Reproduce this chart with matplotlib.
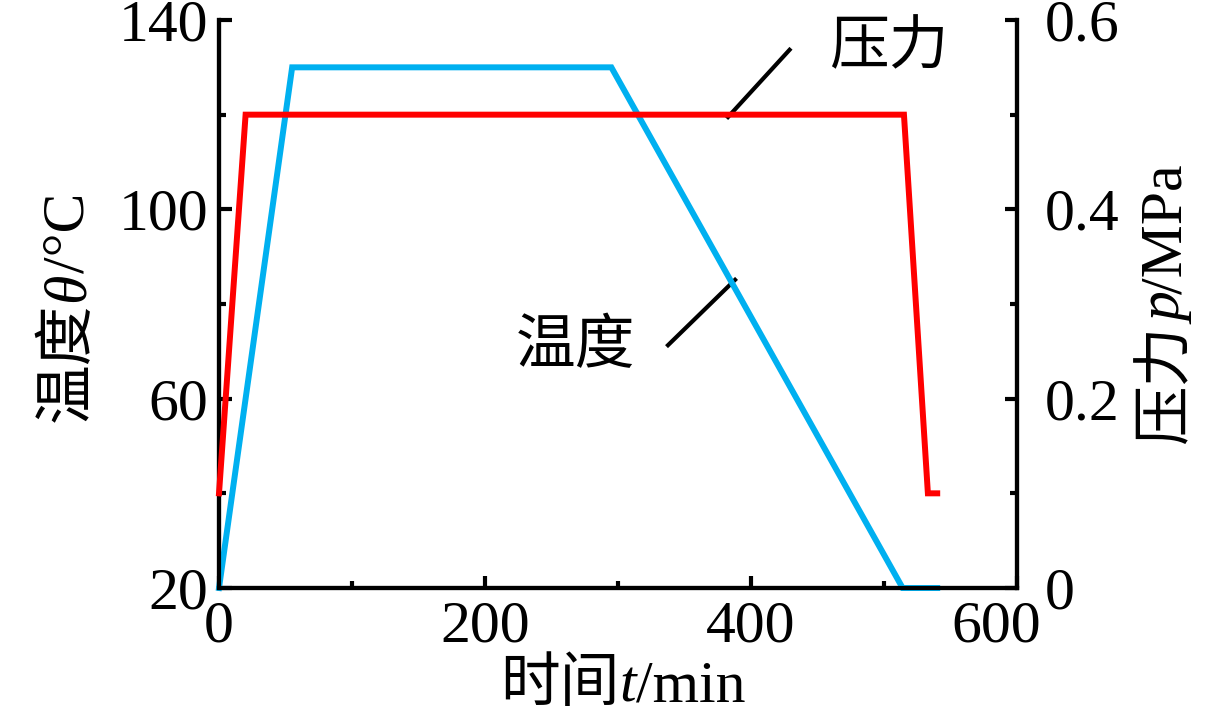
import matplotlib
matplotlib.use("Agg")
import matplotlib.pyplot as plt
from matplotlib.ticker import MultipleLocator
from matplotlib.transforms import ScaledTranslation

plt.rcParams['font.family'] = ['Liberation Serif', 'Noto Sans CJK SC', 'DejaVu Sans']

# Temperature (left axis)
temp_time = [0, 55, 295, 514, 540]
temp_vals = [20, 130, 130, 20, 20]
# Pressure (right axis)
pres_time = [0, 20, 515, 533, 540]
pres_vals = [0.1, 0.5, 0.5, 0.1, 0.1]

xticks = [0, 200, 400, 600]
yticks_left = [20, 60, 100, 140]
yticks_right = [0, 0.2, 0.4, 0.6]
yticklabels_right = ['0', '0.2', '0.4', '0.6']

W, H = 1231, 713
fig = plt.figure(figsize=(W / 100, H / 100), dpi=100)
ax = fig.add_axes([219 / W, 1 - 588 / H, (1017 - 219) / W, (588 - 20) / H])
ax2 = ax.twinx()

blue = '#00B0F0'
red = '#FF0000'
ax.plot(temp_time, temp_vals, color=blue, lw=4.3, solid_joinstyle='miter', zorder=3, clip_on=False)
ax2.plot(pres_time, pres_vals, color=red, lw=4.3, solid_joinstyle='miter', zorder=3, clip_on=False)

ax.set_xlim(0, 600)
ax.set_ylim(20, 140)
ax2.set_ylim(0, 0.6)
ax.set_xticks(xticks)
ax.set_yticks(yticks_left)
ax2.set_yticks(yticks_right)
ax2.set_yticklabels(yticklabels_right)
ax.xaxis.set_minor_locator(MultipleLocator(100))
ax.yaxis.set_minor_locator(MultipleLocator(20))
ax2.yaxis.set_minor_locator(MultipleLocator(0.1))

fs = 43
for a in (ax, ax2):
    for s in a.spines.values():
        s.set_linewidth(3)
    a.tick_params(which='major', direction='in', length=9, width=3, labelsize=fs)
    a.tick_params(which='minor', direction='in', length=5, width=3)
ax.spines['top'].set_visible(False)
ax2.spines['top'].set_visible(False)
ax.tick_params(axis='x', pad=9)
ax.tick_params(axis='y', pad=8)
ax2.tick_params(axis='y', pad=20)

# the last x tick label sits a little to the left, as in the reference
last = ax.xaxis.get_major_ticks()[-1].label1
last.set_transform(last.get_transform() + ScaledTranslation(-0.21, 0, fig.dpi_scale_trans))

# composite labels (CJK + italic serif symbol + upright serif)
renderer = fig.canvas.get_renderer()


def composite(pieces, cx, cy_base, rotation=0):
    """pieces: list of (text, style). cx/cy_base in pixels from top-left.
    For rotation 0: cx = centre x, cy_base = baseline y.
    For rotation 90: cx = baseline x, cy_base = centre y."""
    widths = []
    for txt, style in pieces:
        t = fig.text(0, 0, txt, fontsize=fs, fontstyle=style)
        widths.append(t.get_window_extent(renderer).width)
        t.remove()
    total = sum(widths)
    pos = -total / 2
    for (txt, style), w in zip(pieces, widths):
        if rotation == 0:
            x, y = cx + pos, cy_base
        else:
            x, y = cx, cy_base - pos
        fig.text(x / W, 1 - y / H, txt, fontsize=fs, fontstyle=style,
                 rotation=rotation, rotation_mode='anchor',
                 ha='left', va='baseline')
        pos += w


composite([('时间', 'normal'), ('t', 'italic'), ('/min', 'normal')], 623, 701)
composite([('温度', 'normal'), ('θ', 'italic'), ('/°C', 'normal')], 84, 307, rotation=90)
composite([('压力', 'normal'), ('p', 'italic'), ('/MPa', 'normal')], 1182, 304, rotation=90)

# annotations
ax.text(459, 133.6, '压力', fontsize=fs, ha='left', va='center')
ax.plot([429, 382.7], [133.7, 119.5], color='black', lw=3)
ax.text(313, 70.7, '温度', fontsize=fs, ha='right', va='center')
ax.plot([337.6, 388], [71.3, 85.1], color='black', lw=3)

fig.savefig('out.png', dpi=100)
